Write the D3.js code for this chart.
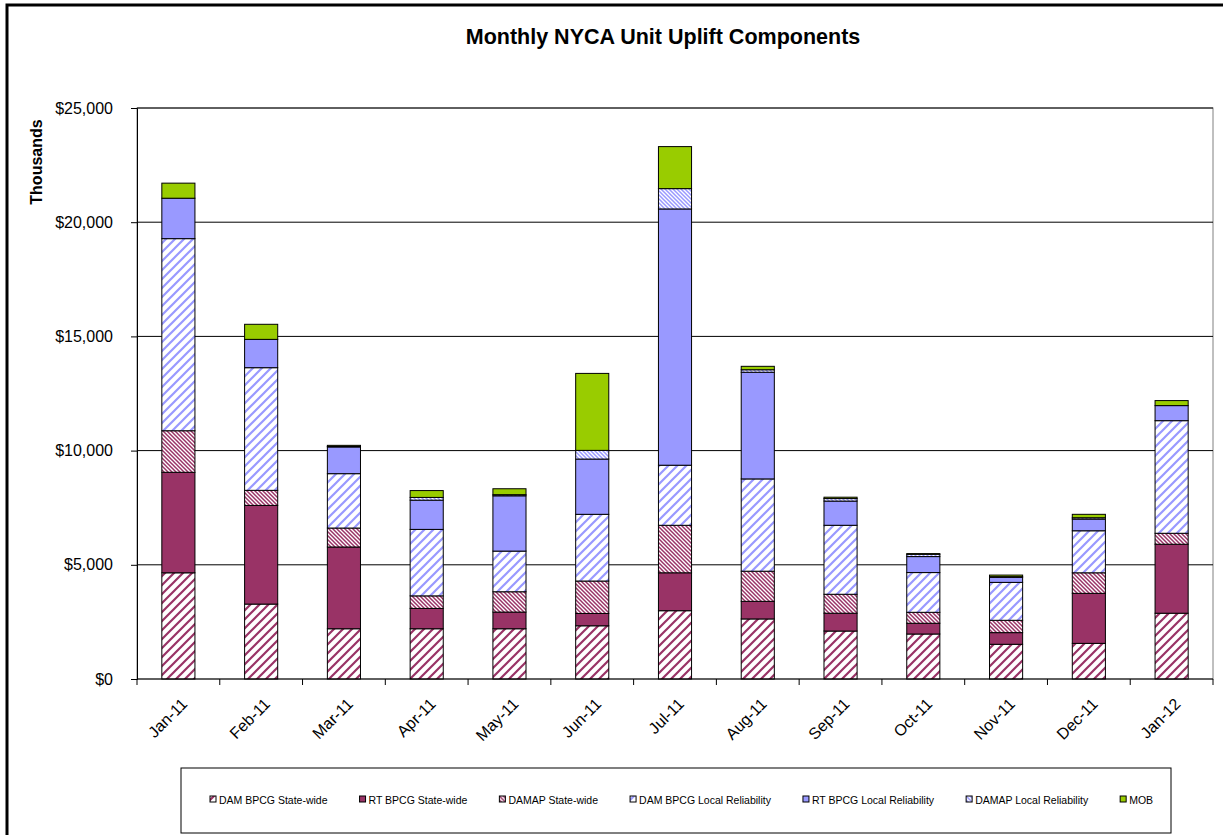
<!DOCTYPE html>
<html>
<head>
<meta charset="utf-8">
<script src="https://cdn.jsdelivr.net/npm/d3@7"></script>
<style>
  body { margin: 0; background: #fff; }
  text { font-family: "Liberation Sans", Arial, sans-serif; }
</style>
</head>
<body>
<div id="chart"></div>
<script>
// months on the x axis
const months = ["Jan-11", "Feb-11", "Mar-11", "Apr-11", "May-11", "Jun-11", "Jul-11",
  "Aug-11", "Sep-11", "Oct-11", "Nov-11", "Dec-11", "Jan-12"];

// series values, $ thousands
const damBpcgState   = [4650, 3280, 2200, 2200, 2200, 2330, 2990, 2630, 2100, 1970, 1520, 1560, 2880];
const rtBpcgState    = [4400, 4320, 3580,  890,  730,  540, 1660,  770,  780,  470,  510, 2190, 3020];
const damapState     = [1820,  660,  830,  550,  890, 1420, 2080, 1320,  830,  480,  540,  900,  480];
const damBpcgLocal   = [8410, 5370, 2380, 2910, 1780, 2920, 2630, 4040, 3020, 1740, 1660, 1840, 4930];
const rtBpcgLocal    = [1770, 1240, 1170, 1280, 2420, 2420, 11220, 4670, 1060, 700,  220,  510,  660];
const damapLocal     = [   0,    0,   20,  120,   50,  380,  890,  110,  110,  100,   30,   60,    0];
const mob            = [ 660,  660,   50,  300,  260, 3370, 1840,  150,   60,   30,   70,  150,  220];

const seriesNames = ["DAM BPCG State-wide", "RT BPCG State-wide", "DAMAP State-wide",
  "DAM BPCG Local Reliability", "RT BPCG Local Reliability", "DAMAP Local Reliability", "MOB"];
const seriesValues = [damBpcgState, rtBpcgState, damapState, damBpcgLocal, rtBpcgLocal, damapLocal, mob];

const yTicks = [0, 5000, 10000, 15000, 20000, 25000];

const W = 1223, H = 835;
const plot = { left: 137, right: 1213, top: 108, bottom: 679 };

const maroon = "#993366", blue = "#9999FF", green = "#99CC00";
// fill per series: hatch ids or plain colours
const fills = ["url(#wideM)", maroon, "url(#narrowM)", "url(#wideB)", blue, "url(#narrowB)", green];

const svg = d3.select("#chart").append("svg")
  .attr("width", W)
  .attr("height", H);

const defs = svg.append("defs");

function widePattern(id, col) {
  const p = defs.append("pattern")
    .attr("id", id)
    .attr("patternUnits", "userSpaceOnUse")
    .attr("width", 9).attr("height", 9);
  p.append("rect").attr("width", 9).attr("height", 9).attr("fill", "#fff");
  p.append("path")
    .attr("d", "M-2,2 L2,-2 M0,9 L9,0 M7,11 L11,7")
    .attr("stroke", col)
    .attr("stroke-width", 2.2);
}
function narrowPattern(id, col) {
  const p = defs.append("pattern")
    .attr("id", id)
    .attr("patternUnits", "userSpaceOnUse")
    .attr("width", 4).attr("height", 4);
  p.append("rect").attr("width", 4).attr("height", 4).attr("fill", "#fff");
  p.append("path")
    .attr("d", "M0,0 L4,4 M-1,3 L1,5 M3,-1 L5,1")
    .attr("stroke", col)
    .attr("stroke-width", 1.5);
}
widePattern("wideM", maroon);
widePattern("wideB", blue);
narrowPattern("narrowM", maroon);
narrowPattern("narrowB", blue);

// outer frame
svg.append("rect")
  .attr("x", 7).attr("y", 5)
  .attr("width", 1400).attr("height", 1000)
  .attr("fill", "none")
  .attr("stroke", "#000")
  .attr("stroke-width", 3);

// title
svg.append("text")
  .attr("x", 663).attr("y", 44)
  .attr("text-anchor", "middle")
  .style("font-size", "21.5px")
  .style("font-weight", "bold")
  .text("Monthly NYCA Unit Uplift Components");

const x = d3.scaleBand()
  .domain(months)
  .range([plot.left, plot.right])
  .paddingInner(0.6)
  .paddingOuter(0.3);

const y = d3.scaleLinear()
  .domain([0, 25000])
  .range([plot.bottom, plot.top]);

// plot area border
svg.append("rect")
  .attr("x", plot.left).attr("y", plot.top)
  .attr("width", plot.right - plot.left)
  .attr("height", plot.bottom - plot.top)
  .attr("fill", "#fff")
  .attr("stroke", "#808080");

// gridlines
svg.append("g")
  .selectAll("line")
  .data(yTicks.slice(1))
  .join("line")
  .attr("x1", plot.left).attr("x2", plot.right)
  .attr("y1", d => y(d)).attr("y2", d => y(d))
  .attr("stroke", "#000");

// y axis
svg.append("g")
  .attr("transform", `translate(${plot.left},0)`)
  .call(d3.axisLeft(y).tickValues(yTicks).tickSize(6).tickPadding(18)
    .tickFormat(d => "$" + d3.format(",")(d)))
  .call(g => g.select(".domain").attr("stroke", "#000"))
  .call(g => g.selectAll(".tick text")
    .style("font-size", "16px")
    .attr("fill", "#000"));

svg.append("text")
  .attr("transform", "translate(42,162) rotate(-90)")
  .attr("text-anchor", "middle")
  .style("font-size", "16px")
  .style("font-weight", "bold")
  .text("Thousands");

// stacked bars
const table = months.map((m, i) => {
  const row = { month: m };
  seriesNames.forEach((s, k) => { row[s] = seriesValues[k][i]; });
  return row;
});
const stacked = d3.stack().keys(seriesNames)(table);

svg.append("g")
  .selectAll("g")
  .data(stacked)
  .join("g")
  .attr("fill", (d, k) => fills[k])
  .selectAll("rect")
  .data(d => d)
  .join("rect")
  .attr("x", d => x(d.data.month))
  .attr("width", x.bandwidth())
  .attr("y", d => y(d[1]))
  .attr("height", d => y(d[0]) - y(d[1]))
  .attr("stroke", "#000")
  .attr("stroke-width", 1);

// x axis
const step = x.step();
const xg = svg.append("g");
xg.append("line")
  .attr("x1", plot.left).attr("x2", plot.right)
  .attr("y1", plot.bottom).attr("y2", plot.bottom)
  .attr("stroke", "#000");
xg.selectAll("line.tick")
  .data(d3.range(months.length + 1))
  .join("line")
  .attr("class", "tick")
  .attr("x1", i => plot.left + i * step).attr("x2", i => plot.left + i * step)
  .attr("y1", plot.bottom).attr("y2", plot.bottom + 6)
  .attr("stroke", "#000");
xg.selectAll("text")
  .data(months)
  .join("text")
  .attr("transform", d => `translate(${x(d) + x.bandwidth() / 2 + 10},${plot.bottom + 26}) rotate(-45)`)
  .attr("text-anchor", "end")
  .style("font-size", "16px")
  .text(d => d);

// legend
const lg = svg.append("g");
lg.append("rect")
  .attr("x", 181).attr("y", 768)
  .attr("width", 990).attr("height", 65)
  .attr("fill", "#fff")
  .attr("stroke", "#000");

let lx = 210;
seriesNames.forEach((name, k) => {
  const item = lg.append("g").attr("transform", `translate(${lx},800)`);
  item.append("rect")
    .attr("x", 0).attr("y", -4)
    .attr("width", 6).attr("height", 6)
    .attr("fill", fills[k])
    .attr("stroke", "#000");
  const t = item.append("text")
    .attr("x", 9).attr("y", 4)
    .style("font-size", "10.5px")
    .text(name);
  lx += 9 + t.node().getComputedTextLength() + 32;
});
</script>
</body>
</html>
